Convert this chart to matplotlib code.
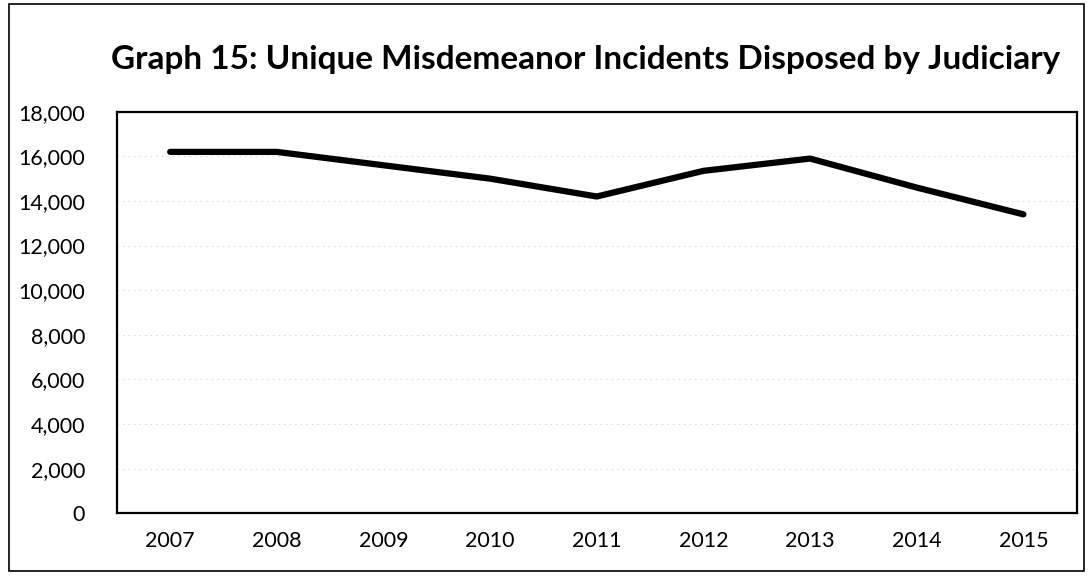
import matplotlib
matplotlib.use("Agg")
import matplotlib.pyplot as plt
from matplotlib.patches import Rectangle

years = ["2007", "2008", "2009", "2010", "2011", "2012", "2013", "2014", "2015"]
incidents = [16200, 16200, 15600, 15000, 14200, 15350, 15900, 14600, 13400]
y_ticks = [0, 2000, 4000, 6000, 8000, 10000, 12000, 14000, 16000, 18000]
title = "Graph 15: Unique Misdemeanor Incidents Disposed by Judiciary"

plt.rcParams['font.family'] = ['Lato', 'DejaVu Sans']

fig = plt.figure(figsize=(10.92, 5.76), dpi=100)
ax = fig.add_axes([0.107, 0.109, 0.879, 0.697])

x = list(range(len(years)))
ax.plot(x, incidents, color="black", linewidth=4.5, solid_capstyle="round", solid_joinstyle="round", zorder=3)

ax.set_xlim(-0.5, len(years) - 0.5)
ax.set_ylim(0, 18000)
ax.set_yticks(y_ticks)
ax.set_yticklabels([f"{v:,}" for v in y_ticks])
ax.set_xticks(x)
ax.set_xticklabels(years)
ax.tick_params(axis="both", length=0, labelsize=15.5, colors="black")
ax.tick_params(axis="y", pad=23)
ax.tick_params(axis="x", pad=13)
ax.grid(axis="y", color="#cccccc", linestyle=(0, (1, 4)), linewidth=0.8)
for s in ax.spines.values():
    s.set_linewidth(1.6)
    s.set_color("black")

fig.text(0.536, 0.897, title, ha="center", va="center", fontsize=24, fontweight="bold")

fig.patches.append(Rectangle((0.008, 0.008), 0.985, 0.985, transform=fig.transFigure,
                             fill=False, edgecolor="black", linewidth=1.2))

fig.savefig("out.png", dpi=100)
